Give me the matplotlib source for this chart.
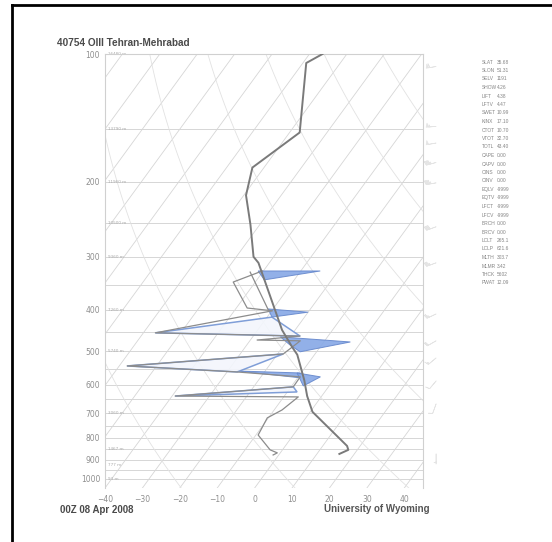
"""Skew-T sounding for Tehran-Mehrabad, 00Z 08 Apr 2008."""
import numpy as np
import matplotlib.pyplot as plt

SKEW = 36.0          # degC of horizontal shift per ln(p) unit
P_BOT, P_TOP = 1050, 100

# temperature profile (hPa, degC)
temp_p = [100, 105, 153, 185, 215, 252, 300, 310, 446, 489, 510, 585, 638, 695, 836, 854, 873]
temp_t = [-66.5, -69.1, -57.3, -63.1, -59.4, -52.5, -45.4, -42.9, -23.5, -17.5, -14.6,
          -7.8, -3.9, 0.6, 16.5, 17.6, 16.0]

# dewpoint profile (hPa, degC)
dew_p = [324, 344, 396, 402, 453, 461, 471, 473, 508, 542, 560, 575, 607, 638, 641,
         688, 718, 788, 854, 868, 878]
dew_t = [-40.3, -45.9, -37.1, -29.8, -56.8, -17.5, -28.2, -16.5, -18.5, -57.9, -27.3,
         -9.5, -9.4, -39.2, -6.1, -7.9, -10.3, -9.4, -3.3, -0.8, -1.5]
dew2_p = [326, 400]
dew2_t = [-43.3, -31.1]

# blue moist wedges: (temperatures, pressures)
wedge_t = [[-41.4, -24.8, -38.0],
           [-31.3, -20.0, -28.7],
           [-22.6, -2.9, -14.4, -18.4],
           [-27.5, -10.3, -9.3],
           [-11.1, -4.1, -6.9]]
wedge_p = [[324, 324, 340],
           [398, 405, 416],
           [463, 476, 502, 484],
           [557, 563, 578],
           [563, 575, 604]]
# thin dry spikes to the left
spike_t = [[-28.7, -56.8, -17.5],
           [-18.5, -57.9, -27.3],
           [-9.4, -39.2, -7.4]]
spike_p = [[416, 453, 461],
           [508, 542, 560],
           [607, 638, 624]]

# heights of standard levels
hgt_p = [100, 150, 200, 250, 300, 400, 500, 700, 850, 925, 1000]
hgt_lbl = ["16480 m", "13790 m", "11960 m", "10500 m", "9360 m", "7260 m", "5740 m",
           "3060 m", "1467 m", "777 m", "93 m"]

# winds
wind_p = [107, 148, 162, 180, 201, 255, 310, 409, 473, 519, 588, 666, 873]
wind_spd = [60, 55, 50, 45, 45, 40, 35, 25, 20, 15, 10, 10, 5]
wind_dir = [260, 265, 260, 255, 260, 250, 250, 245, 240, 230, 220, 200, 180]

# station indices
idx_names = ["SLAT", "SLON", "SELV", "SHOW", "LIFT", "LFTV", "SWET", "KINX", "CTOT", "VTOT",
             "TOTL", "CAPE", "CAPV", "CINS", "CINV", "EQLV", "EQTV", "LFCT", "LFCV", "BRCH",
             "BRCV", "LCLT", "LCLP", "MLTH", "MLMR", "THCK", "PWAT"]
idx_vals = ["35.68", "51.31", "1191", "4.26", "4.38", "4.47", "10.99", "17.10", "10.70",
            "32.70", "43.40", "0.00", "0.00", "0.00", "0.00", "-9999", "-9999", "-9999",
            "-9999", "0.00", "0.00", "265.1", "621.6", "303.7", "3.42", "5602", "12.09"]


def skew_x(t, p):
    """Shift temperatures to the skewed x coordinate."""
    return np.asarray(t, dtype=float) + SKEW * np.log(P_BOT / np.asarray(p, dtype=float))


W, H = 552, 542
fig = plt.figure(figsize=(W / 100, H / 100), dpi=100)
ax = fig.add_axes([105 / W, 1 - 488 / H, 318 / W, 434 / H])
ax.set_yscale("log")
ax.set_xlim(-40, 45)
ax.set_ylim(P_BOT, P_TOP)

grid_col = "#d6d6d6"
pp = np.logspace(np.log10(P_TOP), np.log10(P_BOT), 60)

# isobars
for p in range(100, 1001, 50):
    ax.axhline(p, color=grid_col, lw=0.7, zorder=1)
# isotherms
for t0 in range(-140, 50, 10):
    ax.plot(skew_x(np.full_like(pp, t0), pp), pp, color=grid_col, lw=0.6, zorder=1)
# dry adiabats
for theta in range(250, 481, 30):
    tt = theta * (pp / 1000.0) ** 0.286 - 273.15
    ax.plot(skew_x(tt, pp), pp, color="#e2e2e2", lw=0.6, zorder=1)

# blue wedges
for wt, wp in zip(wedge_t, wedge_p):
    ax.fill(skew_x(wt, wp), wp, facecolor="#86a8e6", edgecolor="#6587cc", lw=0.7,
            alpha=0.9, zorder=3)
for st, sp in zip(spike_t, spike_p):
    ax.fill(skew_x(st, sp), sp, facecolor="#f3f6fc", edgecolor="#7294d4", lw=1.1,
            alpha=0.9, zorder=3)

# profiles
ax.plot(skew_x(dew_t, dew_p), dew_p, color="#8c8c8c", lw=0.9, zorder=4)
ax.plot(skew_x(dew2_t, dew2_p), dew2_p, color="#8c8c8c", lw=0.9, zorder=4)
ax.plot(skew_x(temp_t, temp_p), temp_p, color="#7a7a7a", lw=1.4, zorder=5)

# height labels
for p, lbl in zip(hgt_p, hgt_lbl):
    ax.text(-39.3, p, lbl, fontsize=3, color="#aaaaaa", va="center", ha="left", zorder=2)

# wind barbs, just right of the diagram
wd = np.radians(wind_dir)
u = -np.array(wind_spd) * np.sin(wd)
v = -np.array(wind_spd) * np.cos(wd)
ax.barbs(np.full(len(wind_p), 48.5), wind_p, u, v, length=3.8, color="#e4e4e4",
         linewidth=0.5, clip_on=False)

# axes styling
for side in ["left", "right", "top"]:
    ax.spines[side].set_color("#d0d0d0")
    ax.spines[side].set_linewidth(0.8)
ax.spines["bottom"].set_visible(False)
ax.set_xticks(range(-40, 41, 10))
ax.set_yticks(range(100, 1001, 100))
ax.set_yticklabels([str(p) for p in range(100, 1001, 100)])
ax.yaxis.set_minor_locator(plt.NullLocator())
ax.tick_params(length=0, labelsize=5.5, labelcolor="#8f8f8f")
ax.tick_params(axis="x", pad=5)
ax.tick_params(axis="y", pad=3.5)

font = ["Liberation Sans Narrow", "Liberation Sans", "DejaVu Sans"]
fig.text(57 / W, 1 - 43 / H, "40754 OIII Tehran-Mehrabad", fontsize=7.2,
         fontweight="bold", color="#4a4a4a", va="center", family=font)
fig.text(60 / W, 1 - 510 / H, "00Z 08 Apr 2008", fontsize=7.0, fontweight="bold",
         color="#4a4a4a", va="center", family=font)
fig.text(430 / W, 1 - 509 / H, "University of Wyoming", fontsize=7.0, fontweight="bold",
         color="#555555", va="center", ha="right", family=font)

# station indices column
for i, (name, val) in enumerate(zip(idx_names, idx_vals)):
    y = 1 - (62 + i * 8.5) / H
    fig.text(482 / W, y, name, fontsize=3.5, color="#858585", va="center", family=font)
    fig.text(497 / W, y, val, fontsize=3.5, color="#858585", va="center", family=font)

# outer frame (left and top edges)
fig.add_artist(plt.Line2D([12 / W, 12 / W], [0, 1 - 5 / H], color="black", lw=2))
fig.add_artist(plt.Line2D([12 / W, 1], [1 - 5 / H, 1 - 5 / H], color="black", lw=2))

fig.savefig("out.png", dpi=100)
